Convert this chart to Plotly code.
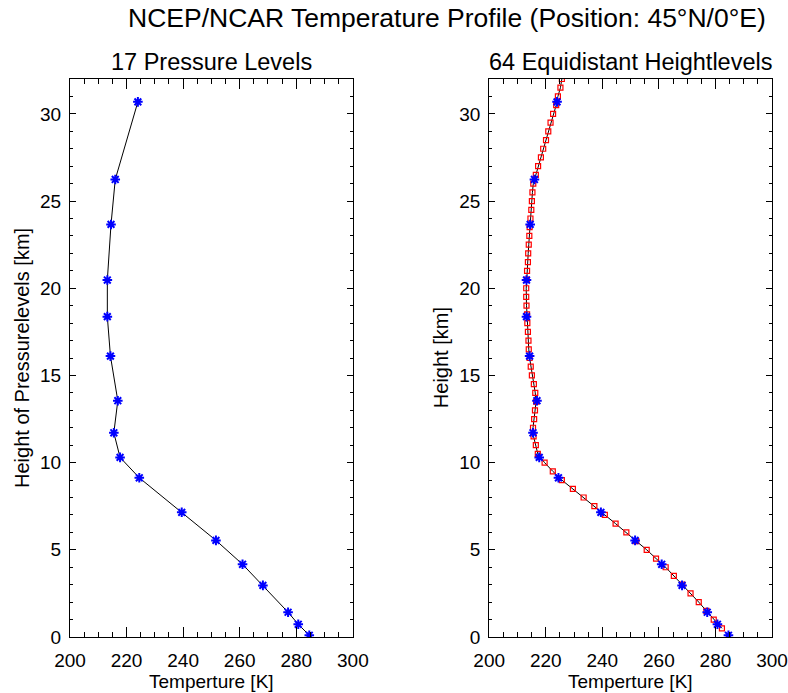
import plotly.graph_objects as go

# ---------------- data ----------------
# 17 standard pressure levels: height [km] and temperature [K]
p_height = [0.1, 0.73, 1.42, 2.96, 4.17, 5.54, 7.15, 9.13, 10.30, 11.71,
            13.55, 16.11, 18.37, 20.47, 23.66, 26.24, 30.69]
p_temp = [284.6, 280.7, 277.1, 268.2, 261.0, 251.6, 239.5, 224.5, 217.7, 215.5,
          216.9, 214.3, 213.2, 213.2, 214.5, 216.0, 224.0]

# 64 equidistant height levels
eq_height = [0.5, 1.0, 1.5, 2.0, 2.5, 3.0, 3.5, 4.0, 4.5, 5.0,
             5.5, 6.0, 6.5, 7.0, 7.5, 8.0, 8.5, 9.0, 9.5, 10.0,
             10.5, 11.0, 11.5, 12.0, 12.5, 13.0, 13.5, 14.0, 14.5, 15.0,
             15.5, 16.0, 16.5, 17.0, 17.5, 18.0, 18.5, 19.0, 19.5, 20.0,
             20.5, 21.0, 21.5, 22.0, 22.5, 23.0, 23.5, 24.0, 24.5, 25.0,
             25.5, 26.0, 26.5, 27.0, 27.5, 28.0, 28.5, 29.0, 29.5, 30.0,
             30.5, 31.0, 31.5, 32.0]
eq_temp = [282.3, 279.4, 276.8, 274.1, 271.2, 268.3, 265.3, 262.4, 259.0, 255.7,
           252.0, 248.5, 244.7, 240.9, 237.2, 233.4, 229.6, 225.7, 222.5, 219.6,
           217.2, 216.5, 215.7, 215.5, 215.9, 216.2, 216.6, 216.3, 215.8, 215.1,
           214.7, 214.3, 214.0, 213.9, 213.7, 213.5, 213.4, 213.2, 213.1, 213.1,
           213.3, 213.4, 213.7, 213.8, 214.0, 214.2, 214.3, 214.6, 214.9, 215.1,
           215.3, 215.6, 216.5, 217.3, 218.3, 219.1, 220.1, 220.9, 221.7, 222.6,
           223.7, 224.3, 225.2, 225.7]

x_ticks = [200, 220, 240, 260, 280, 300]
y_ticks = [0, 5, 10, 15, 20, 25, 30]
x_range = [200, 300]
y_range = [0, 32]

main_title = "NCEP/NCAR Temperature Profile (Position: 45°N/0°E)"
left_title = "17 Pressure Levels"
right_title = "64 Equidistant Heightlevels"
x_label = "Temperture [K]"
left_ylabel = "Height of Pressurelevels [km]"
right_ylabel = "Height [km]"

FONT = "Liberation Sans"
BLUE = "rgb(0,0,255)"
RED = "rgb(255,0,0)"

star = dict(symbol="asterisk-open", size=8, color=BLUE,
            line=dict(color=BLUE, width=2))

fig = go.Figure()

# left panel
fig.add_trace(go.Scatter(x=p_temp, y=p_height, mode="lines",
                         line=dict(color="black", width=1), xaxis="x", yaxis="y",
                         showlegend=False, hoverinfo="skip"))
fig.add_trace(go.Scatter(x=p_temp, y=p_height, mode="markers", marker=star,
                         xaxis="x", yaxis="y", showlegend=False))

# right panel
fig.add_trace(go.Scatter(x=eq_temp, y=eq_height, mode="lines+markers",
                         line=dict(color="black", width=1),
                         marker=dict(symbol="square-open", size=5, color=RED,
                                     line=dict(color=RED, width=1.2)),
                         xaxis="x2", yaxis="y2", showlegend=False, cliponaxis=True))
fig.add_trace(go.Scatter(x=p_temp, y=p_height, mode="markers", marker=star,
                         xaxis="x2", yaxis="y2", showlegend=False))

xcommon = dict(range=x_range, tickvals=x_ticks, ticktext=[str(v) for v in x_ticks],
               ticks="inside", ticklen=10, tickwidth=1, tickcolor="black",
               showline=True, linecolor="black", linewidth=1, mirror="ticks",
               showgrid=False, zeroline=False, automargin=False,
               minor=dict(dtick=5, ticks="inside", ticklen=5, tickcolor="black",
                          tickwidth=1, showgrid=False),
               tickfont=dict(family=FONT, size=19, color="black"),
               ticklabelstandoff=6)
ycommon = dict(range=y_range, tickvals=y_ticks, ticktext=[str(v) for v in y_ticks],
               ticks="inside", ticklen=6, tickwidth=1, tickcolor="black",
               showline=True, linecolor="black", linewidth=1, mirror="ticks",
               showgrid=False, zeroline=False, automargin=False,
               minor=dict(dtick=1, ticks="inside", ticklen=3, tickcolor="black",
                          tickwidth=1, showgrid=False),
               tickfont=dict(family=FONT, size=19, color="black"),
               ticklabelstandoff=4)

dom_left = [0, 0.4029]
dom_right = [0.5971, 1]

fig.update_layout(
    width=788, height=693, autosize=False,
    margin=dict(l=70, r=16, t=79, b=56, autoexpand=False),
    paper_bgcolor="white", plot_bgcolor="white",
    xaxis=dict(domain=dom_left, anchor="y", **xcommon),
    yaxis=dict(domain=[0, 1], anchor="x", **ycommon),
    xaxis2=dict(domain=dom_right, anchor="y2", **xcommon),
    yaxis2=dict(domain=[0, 1], anchor="x2", **ycommon),
)

ann_font = dict(family=FONT, color="black")
annotations = [
    dict(text=main_title, x=0.537, y=1.109, font=dict(size=26.5, **ann_font)),
    dict(text=left_title, x=sum(dom_left) / 2, y=1.0305, font=dict(size=23.5, **ann_font)),
    dict(text=right_title, x=sum(dom_right) / 2, y=1.0305, font=dict(size=23.5, **ann_font)),
    dict(text=x_label, x=sum(dom_left) / 2, y=-0.0789, font=dict(size=19, **ann_font)),
    dict(text=x_label, x=sum(dom_right) / 2, y=-0.0789, font=dict(size=19, **ann_font)),
    dict(text=left_ylabel, x=-0.0684, y=0.5, textangle=-90, font=dict(size=20, **ann_font)),
    dict(text=right_ylabel, x=0.5287, y=0.5, textangle=-90, font=dict(size=20, **ann_font)),
]
for a in annotations:
    a.update(xref="paper", yref="paper", xanchor="center", yanchor="middle",
             showarrow=False)
fig.update_layout(annotations=annotations)

fig.write_html("out.html")
